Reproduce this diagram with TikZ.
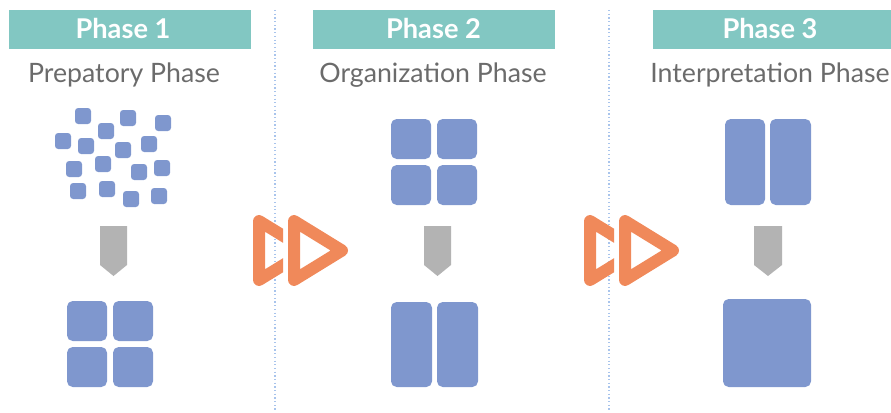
\documentclass[tikz,border=0pt]{standalone}
\usepackage{fontspec}
\setmainfont{Lato}
\definecolor{headteal}{HTML}{82C7C2}
\definecolor{tileblue}{HTML}{7F97CE}
\definecolor{stepgray}{HTML}{B3B3B3}
\definecolor{playorange}{HTML}{F0895A}
\definecolor{textgray}{HTML}{6B6B6B}
\definecolor{sepblue}{HTML}{A8C4EC}

\begin{document}
\begin{tikzpicture}[x=0.02cm,y=-0.02cm,
		playline/.style={draw=playorange,line width=0.24cm,line join=round}]
			\useasboundingbox (0,0) rectangle (891,412);
			\begin{scope}[every path/.style={fill=headteal}]
				\fill (9,10) rectangle (251,49);
				\fill (313,10) rectangle (555,49);
				\fill (653,10) rectangle (891,49);
			\end{scope}
			\begin{scope}[every node/.style={anchor=base,text=white,inner sep=0pt,font=\bfseries\fontsize{15.5}{18}\selectfont}]
	    		\node (ph1) at (123,39) {Phase 1};
	    		\node (ph2) at (433.5,39) {Phase 2};
	    		\node (ph3) at (770,39) {Phase 3};
			\end{scope}
			\begin{scope}[every node/.style={anchor=base,text=textgray,inner sep=0pt,font=\fontsize{15.2}{18}\selectfont}]
	    		\node (sub1) at (124,83) {Prepatory Phase};
	    		\node (sub2) at (433,83) {Organization Phase};
	    		\node (sub3) at (770,83) {Interpretation Phase};
			\end{scope}

			\begin{scope}[sepblue,line width=1.4pt,dash pattern=on 0.7pt off 1.4pt]
				\draw (275,10) -- (275,412);
				\draw (609,10) -- (609,412);
			\end{scope}

			\begin{scope}[every path/.style={fill=tileblue,rounded corners=1.8pt}]
				\foreach \x/\y in {83/116,128/118,163/123,106/131,63/141,86/146,123/150,149/144,
				                   74/169,103/164,139/172,162/168,78/191,107/189,131/199,159/196}
					\fill (\x-8,\y-8) rectangle ++(16,16);
			\end{scope}
			\begin{scope}[every path/.style={fill=tileblue,rounded corners=3.2pt}]
				\foreach \x/\y in {67/301,113/301,67/347,113/347,391/119,437/119,391/165,437/165}
					\fill (\x,\y) rectangle ++(40,40);
	    		\fill (391,302) rectangle (432,387);
	    		\fill (437,302) rectangle (478,387);
	    		\fill (725,119) rectangle (765,205);
	    		\fill (770,119) rectangle (811,205);
	    		\fill (723,299) rectangle (811,387);
			\end{scope}

			\begin{scope}[every path/.style={fill=stepgray}]
				\foreach \a/\b in {100/127,424/451,754/782}
					\fill (\a,226) -- (\b,226) -- (\b,265) -- ({(\a+\b)/2},276) -- (\a,265) -- cycle;
			\end{scope}

			\foreach \o in {0,331}{
				\begin{scope}
					\clip (\o+250,200) rectangle (\o+283,300);
					\draw[playline] (\o+259,221) -- (\o+307,250.5) -- (\o+259,280) -- cycle;
				\end{scope}
				\draw[playline] (\o+294,221) -- (\o+342,250.5) -- (\o+294,280) -- cycle;
			}
		\end{tikzpicture}
\end{document}
